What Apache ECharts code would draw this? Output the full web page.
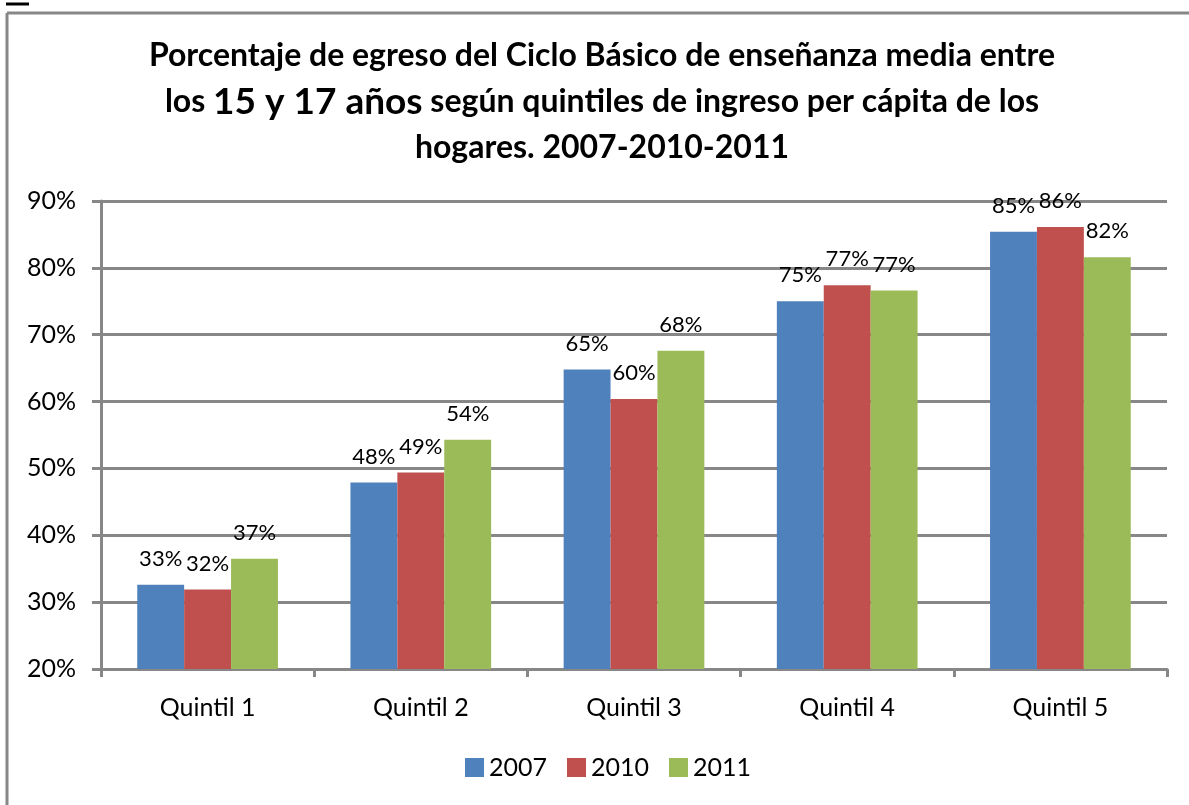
<!DOCTYPE html>
<html lang="es">
<head>
    <meta charset="UTF-8">
    <title>Egreso Ciclo Básico por quintil</title>
    <script src="https://cdn.jsdelivr.net/npm/echarts@6/dist/echarts.min.js"></script>
    <style>
        html, body { margin: 0; padding: 0; background: #fff; }
        #chart { width: 1189px; height: 805px; }
    </style>
</head>
<body>
    <div id="chart"></div>
    <script type="text/javascript">
        // datos
        var quintiles = ['Quintil 1', 'Quintil 2', 'Quintil 3', 'Quintil 4', 'Quintil 5'];
        var anios = ['2007', '2010', '2011'];
        var v2007 = [32.6, 47.9, 64.8, 75.0, 85.4];
        var v2010 = [31.9, 49.4, 60.4, 77.4, 86.1];
        var v2011 = [36.5, 54.3, 67.6, 76.6, 81.6];
        var colores = ['#4F81BD', '#C0504D', '#9BBB59'];

        var fuente = 'Lato, "Open Sans", sans-serif';
        var gris = '#878787';

        var chart = echarts.init(document.getElementById('chart'));

        function serie(nombre, datos, i) {
            return {
                name: nombre,
                type: 'bar',
                data: datos,
                barGap: '0%',
                barCategoryGap: '34%',
                itemStyle: { color: colores[i] },
                label: {
                    show: true,
                    position: 'top',
                    distance: 15,
                    color: '#000',
                    fontFamily: fuente,
                    fontSize: 22,
                    formatter: function (p) { return Math.round(p.value) + '%'; }
                }
            };
        }

        chart.setOption({
            animation: false,
            textStyle: { fontFamily: fuente },
            title: {
                left: 597,
                top: 28,
                textAlign: 'center',
                text: '{b|Porcentaje de egreso del Ciclo Básico de enseñanza media entre}\n' +
                      '{b|los }{g|15 y 17 años}{b| según quintiles de ingreso per cápita de los}\n' +
                      '{b|hogares. 2007-2010-2011}',
                textStyle: {
                    rich: {
                        b: { fontFamily: fuente, fontWeight: 'bold', fontSize: 32, color: '#000', lineHeight: 46 },
                        g: { fontFamily: fuente, fontWeight: 'bold', fontSize: 37, color: '#000', lineHeight: 46 }
                    }
                }
            },
            legend: {
                top: 750,
                left: 460,
                itemWidth: 19,
                itemHeight: 19,
                itemGap: 20,
                icon: 'rect',
                data: anios,
                textStyle: { fontFamily: fuente, fontSize: 25, color: '#000' }
            },
            grid: {
                left: 101,
                right: 22,
                top: 201,
                bottom: 136,
                containLabel: false
            },
            xAxis: {
                type: 'category',
                data: quintiles,
                axisLine: { lineStyle: { color: gris, width: 3 } },
                axisTick: { show: true, alignWithLabel: false, length: 8, lineStyle: { color: gris, width: 3 } },
                axisLabel: { color: '#000', fontSize: 25, fontFamily: fuente, margin: 26 }
            },
            yAxis: {
                type: 'value',
                min: 20,
                max: 90,
                interval: 10,
                axisLine: { show: true, lineStyle: { color: gris, width: 3 } },
                axisTick: { show: true, length: 9, lineStyle: { color: gris, width: 3 } },
                splitLine: { lineStyle: { color: gris, width: 3 } },
                axisLabel: { color: '#000', fontSize: 25, fontFamily: fuente, margin: 25, formatter: '{value}%' }
            },
            graphic: [
                // marco del grafico (solo arriba e izquierda visibles)
                { type: 'line', shape: { x1: 7, y1: 13, x2: 1189, y2: 13 }, style: { stroke: gris, lineWidth: 3 } },
                { type: 'line', shape: { x1: 7, y1: 13, x2: 7, y2: 805 }, style: { stroke: gris, lineWidth: 3 } },
                { type: 'line', shape: { x1: 6, y1: 4, x2: 29, y2: 4 }, style: { stroke: '#000', lineWidth: 3 } }
            ],
            series: [
                serie(anios[0], v2007, 0),
                serie(anios[1], v2010, 1),
                serie(anios[2], v2011, 2)
            ]
        });
    </script>
</body>
</html>
